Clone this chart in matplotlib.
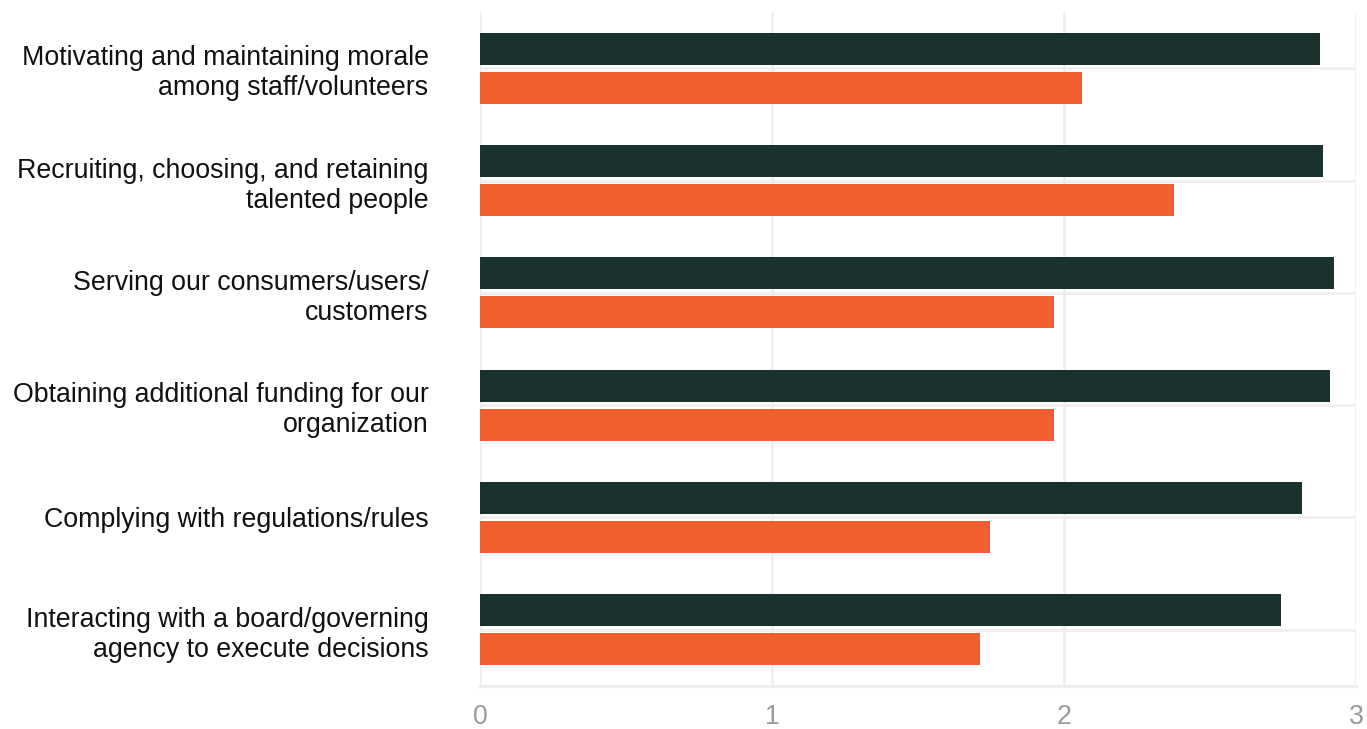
import matplotlib
matplotlib.use("Agg")
import matplotlib.pyplot as plt
import numpy as np

categories = [
    "Motivating and maintaining morale\namong staff/volunteers",
    "Recruiting, choosing, and retaining\ntalented people",
    "Serving our consumers/users/\ncustomers",
    "Obtaining additional funding for our\norganization",
    "Complying with regulations/rules",
    "Interacting with a board/governing\nagency to execute decisions",
]
series_dark = [2.877, 2.887, 2.925, 2.911, 2.815, 2.743]
series_orange = [2.062, 2.377, 1.966, 1.966, 1.747, 1.712]
x_ticks = [0, 1, 2, 3]

dark_color = "#1b312d"
orange_color = "#f15e30"
grid_color = "#eeeeee"

plt.rcParams["font.family"] = ["Liberation Sans", "DejaVu Sans"]

fig = plt.figure(figsize=(13.67, 7.29), dpi=100)
ax = fig.add_axes([0.3511, 0.059, 0.6409, 0.9245])

y = np.arange(len(categories))
bar_h = 0.286
offset = 0.174
ax.barh(y - offset, series_dark, height=bar_h, color=dark_color, zorder=3)
ax.barh(y + offset, series_orange, height=bar_h, color=orange_color, zorder=3)

ax.set_xlim(0, 3)
ax.set_ylim(len(categories) - 0.5, -0.5)
ax.set_xticks(x_ticks)
ax.set_xticklabels([str(t) for t in x_ticks])
ax.set_yticks(y)
ax.set_yticklabels(categories)

ax.grid(True, axis="both", color=grid_color, linewidth=1.8, zorder=0)
ax.set_axisbelow(True)

for side in ("top", "right", "left"):
    ax.spines[side].set_visible(False)
ax.spines["bottom"].set_color(grid_color)
ax.spines["bottom"].set_linewidth(2.2)

ax.tick_params(axis="y", length=0, pad=37, labelsize=19.3, labelcolor="#111111")
ax.tick_params(axis="x", length=0, pad=13, labelsize=19.3, labelcolor="#9a9a9a")
for lbl in ax.get_yticklabels():
    lbl.set_linespacing(1.2)

fig.savefig("out.png", dpi=100)
